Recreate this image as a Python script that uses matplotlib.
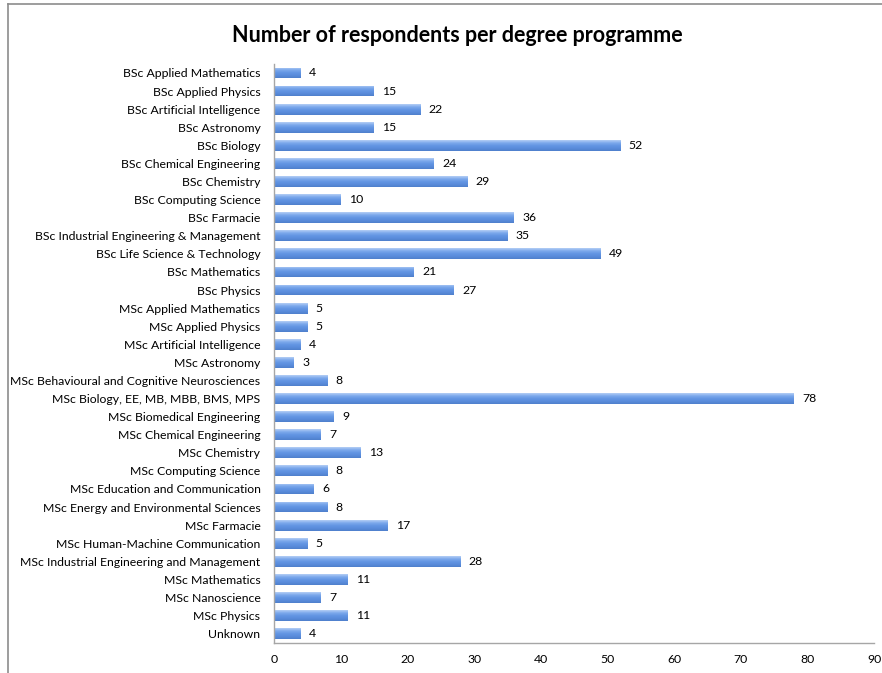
import numpy as np
import matplotlib.pyplot as plt
from matplotlib.colors import LinearSegmentedColormap
from matplotlib.lines import Line2D

plt.rcParams['font.family'] = ['Lato', 'DejaVu Sans']

programmes = [
    'BSc Applied Mathematics', 'BSc Applied Physics', 'BSc Artificial Intelligence',
    'BSc Astronomy', 'BSc Biology', 'BSc Chemical Engineering', 'BSc Chemistry',
    'BSc Computing Science', 'BSc Farmacie', 'BSc Industrial Engineering & Management',
    'BSc Life Science & Technology', 'BSc Mathematics', 'BSc Physics',
    'MSc Applied Mathematics', 'MSc Applied Physics', 'MSc Artificial Intelligence',
    'MSc Astronomy', 'MSc Behavioural and Cognitive Neurosciences',
    'MSc Biology, EE, MB, MBB, BMS, MPS', 'MSc Biomedical Engineering',
    'MSc Chemical Engineering', 'MSc Chemistry', 'MSc Computing Science',
    'MSc Education and Communication', 'MSc Energy and Environmental Sciences',
    'MSc Farmacie', 'MSc Human-Machine Communication',
    'MSc Industrial Engineering and Management', 'MSc Mathematics',
    'MSc Nanoscience', 'MSc Physics', 'Unknown',
]
respondents = [4, 15, 22, 15, 52, 24, 29, 10, 36, 35, 49, 21, 27,
               5, 5, 4, 3, 8, 78, 9, 7, 13, 8, 6, 8, 17, 5, 28, 11, 7, 11, 4]
x_ticks = list(range(0, 100, 10))

fig = plt.figure(figsize=(8.82, 6.73), dpi=100)
ax = fig.add_axes([0.311, 0.045, 0.680, 0.860])

# gradient fill for the bars: light on top, darker underneath
bar_cmap = LinearSegmentedColormap.from_list(
    'bar', ['#b5cff5', '#7eaaec', '#6396e3', '#5a8cdb', '#4f80cc'])
grad = np.linspace(0, 1, 64).reshape(-1, 1)

y = np.arange(len(programmes))
bars = ax.barh(y, respondents, height=0.6, color='none', edgecolor='none')
for bar, val in zip(bars, respondents):
    x0, y0 = bar.get_x(), bar.get_y()
    w, h = bar.get_width(), bar.get_height()
    im = ax.imshow(grad, cmap=bar_cmap, aspect='auto', origin='upper',
                   extent=(x0, x0 + w, y0 + h, y0), zorder=2,
                   interpolation='bilinear')
    im.set_clip_path(bar)
    ax.text(val + 1.2, bar.get_y() + h / 2, str(val), va='center', ha='left',
            fontsize=8.8, color='black')

ax.set_xlim(0, 90)
ax.set_ylim(len(programmes) - 0.5, -0.5)
ax.set_yticks(y)
ax.set_yticklabels(programmes, fontsize=8.8)
ax.set_xticks(x_ticks)
ax.set_xticklabels([str(t) for t in x_ticks], fontsize=8.8)
ax.tick_params(axis='both', length=0)
ax.tick_params(axis='x', pad=8)
ax.tick_params(axis='y', pad=10)

for side in ['top', 'right']:
    ax.spines[side].set_visible(False)
for side in ['left', 'bottom']:
    ax.spines[side].set_color('#a6a6a6')
    ax.spines[side].set_linewidth(1.0)

fig.text(0.518, 0.947, 'Number of respondents per degree programme',
         ha='center', va='center', fontsize=15.5, fontweight='bold')

# chart area frame (top and left edges)
fig.add_artist(Line2D([0.009, 1.0], [0.994, 0.994], color='#8c8c8c', lw=1.2,
                      transform=fig.transFigure))
fig.add_artist(Line2D([0.009, 0.009], [0.0, 0.994], color='#8c8c8c', lw=1.2,
                      transform=fig.transFigure))

fig.savefig('out.png', dpi=100)
